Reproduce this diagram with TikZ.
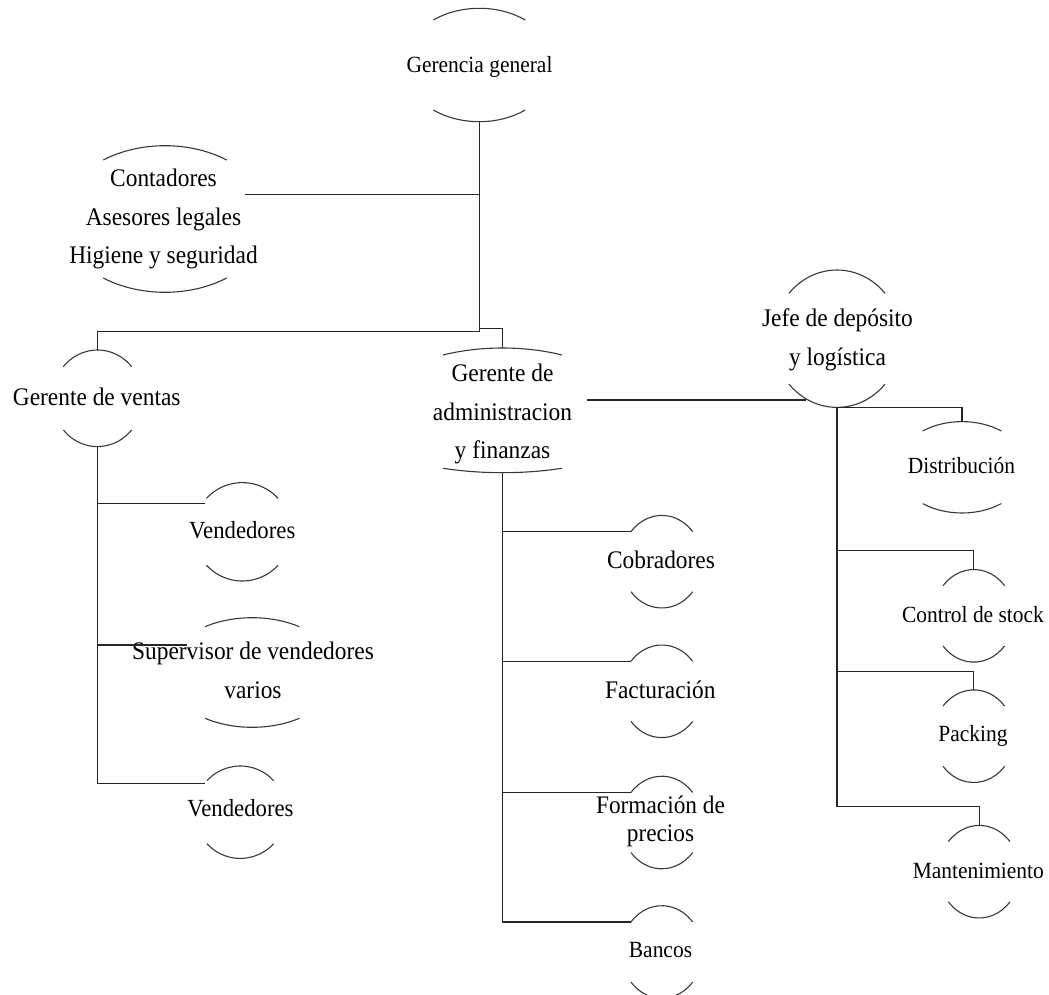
\documentclass[tikz,border=0pt]{standalone}
\usepackage{fontspec}
\setmainfont[FakeStretch=0.925]{Liberation Serif}
\tikzset{
  lbl/.style={inner sep=0pt, align=center, text=black, font=\fontsize{25.3}{38.5}\selectfont},
  lblS/.style={lbl, font=\fontsize{23.2}{38.5}\selectfont},
  lblV/.style={lbl, font=\fontsize{24.6}{38.5}\selectfont},
  lblFP/.style={lbl, font=\fontsize{25.2}{28.4}\selectfont},
  capline/.style={line width=1.1pt, draw=black!78},
  conn/.style={line width=1.3pt, draw=black!85},
}
% name, cx, cy, a(top), angle(top), a(bottom), angle(bottom), b
\newcommand\ovalcaps[8]{%
  \coordinate (#1-c) at (#2,#3);
  \draw[capline] (#1-c) ++(180+#5:#4pt and #8pt) coordinate (#1-tl)
    arc[start angle=180+#5, end angle=360-#5, x radius=#4pt, y radius=#8pt] coordinate (#1-tr);
  \draw[capline] (#1-c) ++(#7:#6pt and #8pt) coordinate (#1-br)
    arc[start angle=#7, end angle=180-#7, x radius=#6pt, y radius=#8pt] coordinate (#1-bl);
  \path (#1-c) ++(0,-#8) coordinate (#1-t);
  \path (#1-c) ++(0,#8) coordinate (#1-b);
}
\begin{document}
\begin{tikzpicture}[x=1pt, y=1pt, yscale=-1]
\useasboundingbox[fill=white] (0,0) rectangle (1049,995);

% ---- nodes ----
\node[lblS] (gg) at (479.5,64.9) {\strut Gerencia general};
\ovalcaps{gg}{479.3}{65}{75.6}{52.5}{75.6}{52.5}{56.7}

\node[lbl] (ct) at (163.5,217.5) {\strut Contadores\\\strut Asesores legales\\\strut Higiene y seguridad};
\ovalcaps{ct}{165}{219}{104}{53.6}{104}{53.6}{73.3}

\node[lbl] (gv) at (96.7,397.3) {\strut Gerente de ventas};
\ovalcaps{gv}{97.5}{398.3}{45.2}{40.9}{45.2}{40.9}{48.3}

\node[lbl] (ga) at (502.5,412.5) {\strut Gerente de\\\strut administracion\\\strut y finanzas};
\ovalcaps{ga}{502.5}{410.35}{129.3}{62.6}{160.8}{68.3}{62.35}

\node[lbl] (jd) at (837.5,338.25) {\strut Jefe de depósito\\\strut y logística};
\ovalcaps{jd}{837}{338.7}{64}{41.4}{64}{41.4}{68.7}

\node[lblS] (di) at (961.5,465.6) {\strut Distribución};
\ovalcaps{di}{962}{467.3}{64.7}{52.6}{64.7}{52.6}{45.7}

\node[lblV] (v1) at (242.3,530.6) {\strut Vendedores};
\ovalcaps{v1}{242.3}{531.8}{48.8}{42.9}{48.8}{42.9}{49.2}

\node[lbl] (sv) at (253,671.5) {\strut Supervisor de vendedores\\\strut varios};
\ovalcaps{sv}{252.2}{672.5}{86}{56.7}{86}{56.7}{54.8}

\node[lblV] (v2) at (240.5,809) {\strut Vendedores};
\ovalcaps{v2}{240.3}{812.2}{45.6}{43}{45.6}{43}{46.2}

\node[lbl] (co) at (661,560.6) {\strut Cobradores};
\ovalcaps{co}{661.8}{561.7}{40.5}{40.5}{40.5}{40.5}{46.3}

\node[lbl] (fa) at (660.3,690.6) {\strut Facturación};
\ovalcaps{fa}{661.8}{691.3}{40.5}{40.5}{40.5}{40.5}{46.3}

\node[lblFP] (fp) at (660.5,821.8) {\strut Formación de\\\strut precios};
\ovalcaps{fp}{661.8}{822.5}{40.5}{40.5}{40.5}{40.5}{46.3}

\node[lblS] (ba) at (660.5,950) {\strut Bancos};
\ovalcaps{ba}{661.8}{952}{40.5}{40.5}{40.5}{40.5}{46.3}

\node[lblS] (cs) at (973,614.3) {\strut Control de stock};
\ovalcaps{cs}{973.8}{615.8}{40.5}{40.5}{40.5}{40.5}{46.3}

\node[lblS] (pa) at (973,734) {\strut Packing};
\ovalcaps{pa}{973.8}{736.2}{40.5}{40.5}{40.5}{40.5}{46.3}

\node[lblS] (ma) at (978.3,870.6) {\strut Mantenimiento};
\ovalcaps{ma}{979.2}{871.7}{40.5}{40.5}{40.5}{40.5}{46.3}

% ---- junction / free-end coordinates ----
\coordinate (j-top) at (479.3,331.7);
\coordinate (j-ga)  at (479.3,328.3);
\coordinate (ct-out) at (245,194.3);
\coordinate (ga-out) at (586.7,400);
\coordinate (jd-in)  at (806,400);
\coordinate (v1-in) at (205,503.3);
\coordinate (sv-in) at (186.7,645);
\coordinate (v2-in) at (204.5,783.3);
\coordinate (j-cs) at (837,550.7);
\coordinate (j-pa) at (837,671.7);
\coordinate (j-ma) at (837,806.7);

% ---- connectors ----
\draw[conn] (gg-b) -- (j-top) -| (gv-t);
\draw[conn] (ct-out) -- (ct-out -| gg-b);
\draw[conn] (j-ga) -| (ga-t);
\draw[conn] (ga-out) -- (jd-in);

\draw[conn] (ga-b) |- (ba-tl);
\draw[conn] (ga-b |- co-tl) -- (co-tl);
\draw[conn] (ga-b |- fa-tl) -- (fa-tl);
\draw[conn] (ga-b |- fp-tl) -- (fp-tl);

\draw[conn] (gv-b) |- (v2-in);
\draw[conn] (gv-b |- v1-in) -- (v1-in);
\draw[conn] (gv-b |- sv-in) -- (sv-in);

\draw[conn] (jd-b) -| (di-t);
\draw[conn] (jd-b) -- (j-ma) -| (ma-t);
\draw[conn] (j-cs) -| (cs-t);
\draw[conn] (j-pa) -| (pa-t);
\end{tikzpicture}
\end{document}
